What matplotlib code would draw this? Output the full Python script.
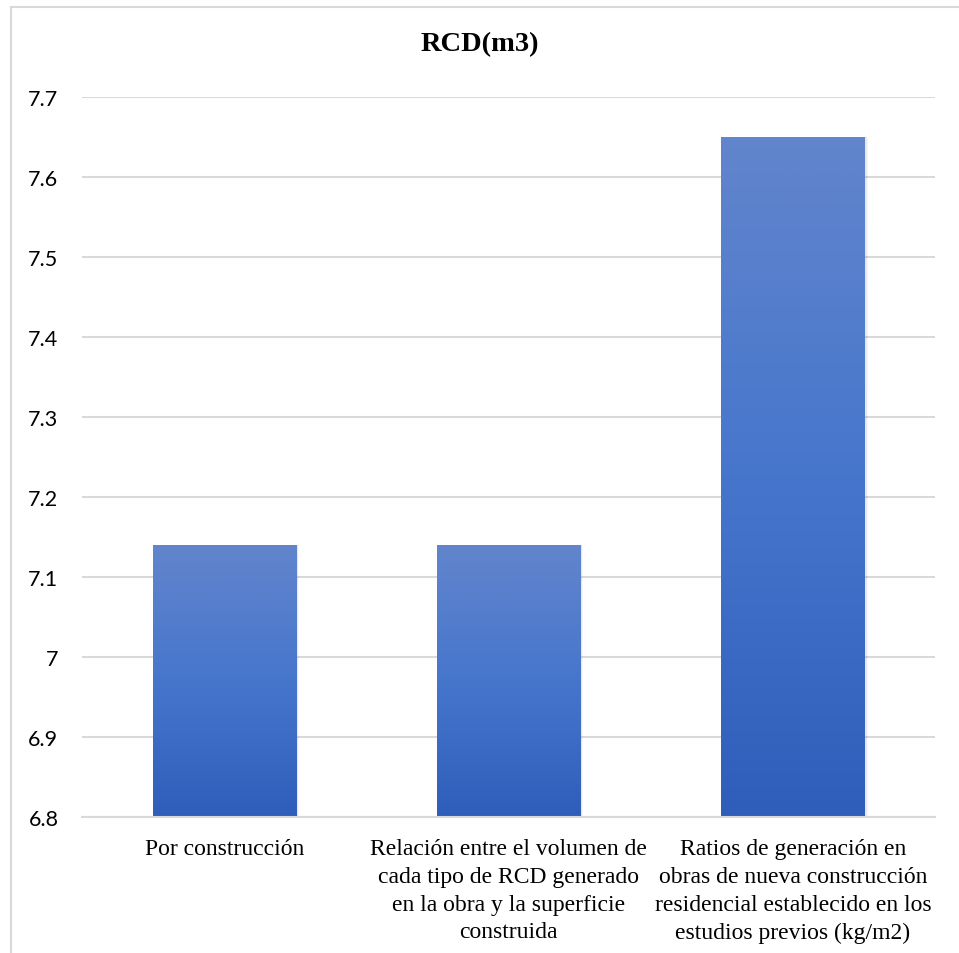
import numpy as np
import matplotlib
matplotlib.use("Agg")
import matplotlib.pyplot as plt
from matplotlib.colors import LinearSegmentedColormap
from matplotlib.patches import Rectangle
from matplotlib.lines import Line2D

categories = [
    "Por construcción",
    "Relación entre el volumen de\ncada tipo de RCD generado\nen la obra y la superficie\nconstruida",
    "Ratios de generación en\nobras de nueva construcción\nresidencial establecido en los\nestudios previos (kg/m2)",
]
values = [7.14, 7.14, 7.65]
yticks = [6.8, 6.9, 7.0, 7.1, 7.2, 7.3, 7.4, 7.5, 7.6, 7.7]
ytick_labels = ["6.8", "6.9", "7", "7.1", "7.2", "7.3", "7.4", "7.5", "7.6", "7.7"]
title = "RCD(m3)"

fig = plt.figure(figsize=(9.59, 9.54), dpi=100)
ax = fig.add_axes([82 / 959, 1 - 818 / 954, (935 - 82) / 959, (818 - 98) / 954])

ymin, ymax = 6.8, 7.7
ax.set_xlim(-0.5, len(categories) - 0.5)
ax.set_ylim(ymin, ymax)

grad = LinearSegmentedColormap.from_list("bar", ["#2E5EBA", "#4676CC", "#6285CC"])
gradient = np.linspace(0, 1, 256).reshape(-1, 1)
width = 0.503

for i, v in enumerate(values):
    x0 = i - width / 2
    # soft drop shadow on the right edge
    for k, a in enumerate([0.10, 0.06, 0.03]):
        off = 0.004 * (k + 1)
        sh = Rectangle((x0 + off, ymin), width, v - ymin,
                       facecolor="black", alpha=a, edgecolor="none", zorder=2)
        ax.add_patch(sh)
    bar = ax.bar(i, v - ymin, bottom=ymin, width=width, color="none", zorder=3)[0]
    im = ax.imshow(gradient, cmap=grad, aspect="auto", origin="lower",
                   extent=[x0, x0 + width, ymin, v], zorder=3)
    im.set_clip_path(bar)

ax.set_xlim(-0.5, len(categories) - 0.5)
ax.set_ylim(ymin, ymax)

ax.set_yticks(yticks)
ax.set_yticklabels(ytick_labels, fontfamily="Lato", fontsize=15.5, color="#000000")
ax.set_xticks(range(len(categories)))
ax.set_xticklabels(categories, fontfamily="Liberation Serif", fontsize=17,
                   color="#000000", linespacing=1.43)
ax.tick_params(axis="both", length=0)
ax.tick_params(axis="y", pad=17)
ax.tick_params(axis="x", pad=15)

ax.grid(axis="y", color="#D9D9D9", linewidth=1.5, zorder=0)
ax.set_axisbelow(True)
for s in ["top", "right", "left"]:
    ax.spines[s].set_visible(False)
ax.spines["bottom"].set_color("#D9D9D9")
ax.spines["bottom"].set_linewidth(1.5)
ax.spines["bottom"].set_zorder(4)

fig.text(0.5, 1 - 45 / 954, title, ha="center", va="center",
         fontfamily="Liberation Serif", fontweight="bold", fontsize=20.5)

# chart frame
fig.add_artist(Line2D([11 / 959, 1.0], [1 - 8 / 954, 1 - 8 / 954],
                      transform=fig.transFigure, color="#D9D9D9", linewidth=1.5))
fig.add_artist(Line2D([11 / 959, 11 / 959], [0.0, 1 - 8 / 954],
                      transform=fig.transFigure, color="#D9D9D9", linewidth=1.5))

fig.savefig("out.png", dpi=100, facecolor="white")
